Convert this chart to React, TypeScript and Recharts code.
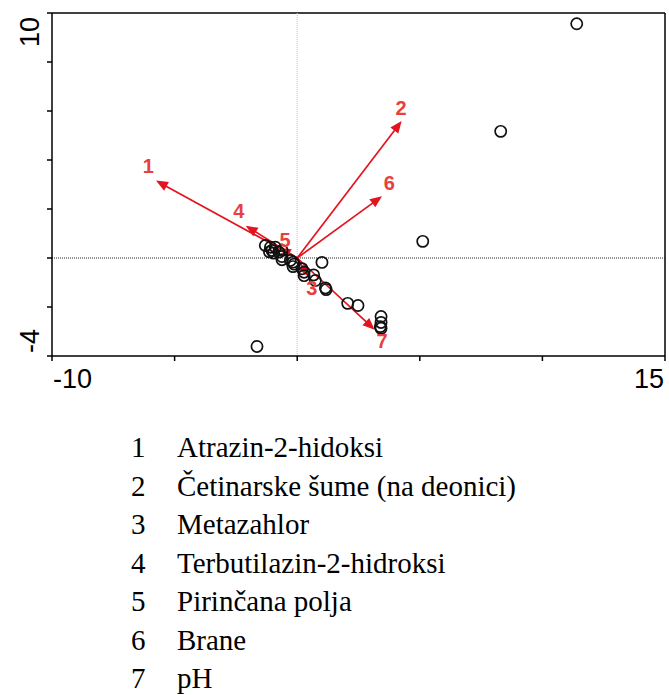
import React from 'react';
import { ScatterChart, Scatter, XAxis, YAxis, ReferenceLine } from 'recharts';

// Site scores (open circles)
const siteX = [11.4, 8.3, 5.12, 1.01, -1.64, 2.06, 2.48, 3.42, 3.42, 3.39, 3.42, 1.15, 1.18, 0.74, 0.67, 0.28, 0.28, 0.2, -0.17, -0.17, -0.12, -0.28, -0.62, -0.62, -0.62, -0.89, -1.09, -1.3, -1.03, -0.96, -1.13, -0.75];
const siteY = [9.56, 5.17, 0.68, -0.18, -3.61, -1.85, -1.94, -2.39, -2.63, -2.8, -2.87, -1.22, -1.29, -0.92, -0.69, -0.58, -0.72, -0.44, -0.17, -0.35, -0.25, -0.1, 0.06, -0.07, 0.31, 0.44, 0.44, 0.51, 0.31, 0.2, 0.25, 0.24];

// Environmental vectors (arrows)
const vectorIds = ['1', '2', '3', '4', '5', '6', '7'];
const vectorX = [-5.76, 4.26, 0.45, -2.1, -0.75, 3.46, 3.16];
const vectorY = [3.16, 5.59, -0.75, 1.32, 0.42, 2.52, -2.93];
const labelX = [-6.07, 4.24, 0.6, -2.38, -0.5, 3.76, 3.46];
const labelY = [3.74, 6.14, -1.22, 1.9, 0.72, 3.06, -3.4];

const legendNames = [
  'Atrazin-2-hidoksi',
  'Četinarske šume (na deonici)',
  'Metazahlor',
  'Terbutilazin-2-hidroksi',
  'Pirinčana polja',
  'Brane',
  'pH',
];

const xTicks = [-10, -5, 0, 5, 10, 15];
const yTicks = [-4, -2, 0, 2, 4, 6, 8, 10];
const xLabelled = [-10, 15];
const yLabelled = [-4, 10];

const sites = siteX.map((x, i) => ({ x, y: siteY[i] }));
const labels = vectorIds.map((id, i) => ({ x: labelX[i], y: labelY[i], id }));

const RED = '#e3141f';
const LABEL_RED = '#e8403f';
const AXIS_FONT = '"Liberation Sans", Arial, sans-serif';

const Arrow = (p: any) => {
  const { x1, y1, x2, y2 } = p;
  const dx = x2 - x1;
  const dy = y2 - y1;
  const len = Math.hypot(dx, dy) || 1;
  const ux = dx / len;
  const uy = dy / len;
  const hl = 12;
  const hw = 5;
  const bx = x2 - ux * hl;
  const by = y2 - uy * hl;
  const pts = `${x2},${y2} ${bx - uy * hw},${by + ux * hw} ${bx + uy * hw},${by - ux * hw}`;
  return (
    <g>
      <line x1={x1} y1={y1} x2={bx + ux * 2} y2={by + uy * 2} stroke={RED} strokeWidth={1.7} />
      <polygon points={pts} fill={RED} />
    </g>
  );
};

const SiteShape = (p: any) => (
  <circle cx={p.cx} cy={p.cy} r={5.6} fill="none" stroke="#111" strokeWidth={1.7} />
);

const LabelShape = (p: any) => (
  <text
    x={p.cx}
    y={p.cy + 7}
    textAnchor="middle"
    fontFamily={AXIS_FONT}
    fontWeight="bold"
    fontSize={20}
    fill={LABEL_RED}
  >
    {p.payload.id}
  </text>
);

const XTick = (p: any) => {
  const v = p.payload.value;
  if (!xLabelled.includes(v)) return <g />;
  const first = v === xLabelled[0];
  return (
    <text
      x={first ? p.x + 1 : p.x - 1}
      y={p.y + 25}
      textAnchor={first ? 'start' : 'end'}
      fontFamily={AXIS_FONT}
      fontSize={27}
      fill="#000"
    >
      {v}
    </text>
  );
};

const YTick = (p: any) => {
  const v = p.payload.value;
  if (!yLabelled.includes(v)) return <g />;
  const isTop = v === yLabelled[1];
  const bx = p.x - 6;
  const ty = isTop ? p.y + 4 : p.y - 3;
  return (
    <text
      x={bx}
      y={ty}
      transform={`rotate(-90, ${bx}, ${ty})`}
      textAnchor={isTop ? 'end' : 'start'}
      fontFamily={AXIS_FONT}
      fontSize={27}
      fill="#000"
    >
      {v}
    </text>
  );
};

export default function App() {
  return (
    <div style={{ position: 'absolute', left: 0, top: 0, width: 669, height: 695, background: '#fff' }}>
      <ScatterChart width={669} height={400} margin={{ top: 13, right: 4, left: 0, bottom: 0 }}>
        <XAxis
          type="number"
          dataKey="x"
          domain={[-10, 15]}
          ticks={xTicks}
          interval={0}
          height={44}
          tickSize={5}
          axisLine={{ stroke: '#000', strokeWidth: 1.5 }}
          tickLine={{ stroke: '#000', strokeWidth: 1.5 }}
          tick={<XTick />}
          allowDataOverflow
        />
        <YAxis
          type="number"
          dataKey="y"
          domain={[-4, 10]}
          ticks={yTicks}
          interval={0}
          width={52}
          tickSize={5}
          axisLine={{ stroke: '#000', strokeWidth: 1.5 }}
          tickLine={{ stroke: '#000', strokeWidth: 1.5 }}
          tick={<YTick />}
          allowDataOverflow
        />
        <ReferenceLine y={10} stroke="#000" strokeWidth={1.5} />
        <ReferenceLine x={15} stroke="#000" strokeWidth={1.5} />
        <ReferenceLine x={0} stroke="#c4c4c4" strokeWidth={1} strokeDasharray="1 1" />
        <ReferenceLine y={0} stroke="#222" strokeWidth={1} strokeDasharray="1 1" />
        {vectorIds.map((id, i) => (
          <ReferenceLine
            key={'v' + id}
            segment={[
              { x: 0, y: 0 },
              { x: vectorX[i], y: vectorY[i] },
            ]}
            shape={Arrow}
            ifOverflow="visible"
          />
        ))}
        <Scatter data={sites} shape={SiteShape} isAnimationActive={false} />
        <Scatter data={labels} shape={LabelShape} isAnimationActive={false} />
      </ScatterChart>
      <svg width={669} height={295} style={{ position: 'absolute', left: 0, top: 400 }}>
        {legendNames.map((name, i) => (
          <g key={name} fontFamily='"Liberation Serif", "Times New Roman", serif' fontSize={29} fill="#000">
            <text x={131} y={57 + i * 38.5}>{vectorIds[i]}</text>
            <text x={177} y={57 + i * 38.5}>{name}</text>
          </g>
        ))}
      </svg>
    </div>
  );
}
